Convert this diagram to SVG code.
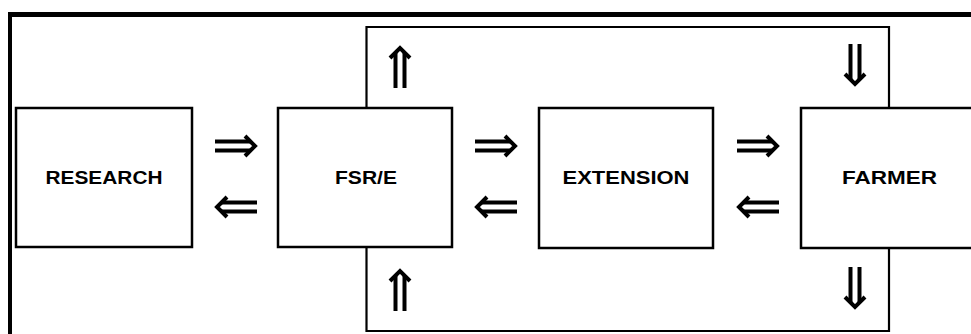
<svg xmlns="http://www.w3.org/2000/svg" width="971" height="334" viewBox="0 0 971 334">
<style>
.box{fill:#fff;stroke:#000;stroke-width:2.5}
.frame{stroke:#000;fill:none}
.loop{stroke:#000;stroke-width:2.2;fill:none}
.lbl{font-family:"Liberation Sans",Arial,sans-serif;font-weight:bold;font-size:18px;fill:#000;text-anchor:middle}
.arr{stroke:#000;fill:none;stroke-width:4}
</style>
<defs>
<g id="dbl">
<line class="arr" x1="-21" y1="-4.5" x2="14" y2="-4.5"/>
<line class="arr" x1="-21" y1="4.5" x2="14" y2="4.5"/>
<polyline class="arr" points="9,-10 19,0 9,10" stroke-width="4.5"/>
</g>
</defs>
<rect width="971" height="334" fill="#fff"/>
<line class="frame" x1="8" y1="14.5" x2="971" y2="14.5" stroke-width="5"/>
<line class="frame" x1="10" y1="12" x2="10" y2="334" stroke-width="4"/>
<g id="connectors">
<polyline class="loop" points="366.5,108 366.5,27 889,27 889,108"/>
<polyline class="loop" points="366.5,247 366.5,331 889,331 889,248"/>
<use href="#dbl" transform="translate(236,146)"/>
<use href="#dbl" transform="translate(236,207) rotate(180)"/>
<use href="#dbl" transform="translate(496,146)"/>
<use href="#dbl" transform="translate(496,207) rotate(180)"/>
<use href="#dbl" transform="translate(758,146)"/>
<use href="#dbl" transform="translate(758,207) rotate(180)"/>
<use href="#dbl" transform="translate(400,67) rotate(-90)"/>
<use href="#dbl" transform="translate(400,290) rotate(-90)"/>
<use href="#dbl" transform="translate(855,65) rotate(90)"/>
<use href="#dbl" transform="translate(855,288) rotate(90)"/>
</g>
<g id="research">
<rect class="box" x="16" y="108" width="176" height="139"/>
<text class="lbl" x="104" y="183.5" textLength="117" lengthAdjust="spacingAndGlyphs">RESEARCH</text>
</g>
<g id="fsre">
<rect class="box" x="278" y="108" width="174" height="139"/>
<text class="lbl" x="366" y="183.5" textLength="62" lengthAdjust="spacingAndGlyphs">FSR/E</text>
</g>
<g id="extension">
<rect class="box" x="539" y="108" width="174" height="140"/>
<text class="lbl" x="626" y="183.5" textLength="127" lengthAdjust="spacingAndGlyphs">EXTENSION</text>
</g>
<g id="farmer">
<rect class="box" x="801" y="108" width="180" height="140"/>
<text class="lbl" x="889.5" y="183.5" textLength="95" lengthAdjust="spacingAndGlyphs">FARMER</text>
</g>
</svg>
